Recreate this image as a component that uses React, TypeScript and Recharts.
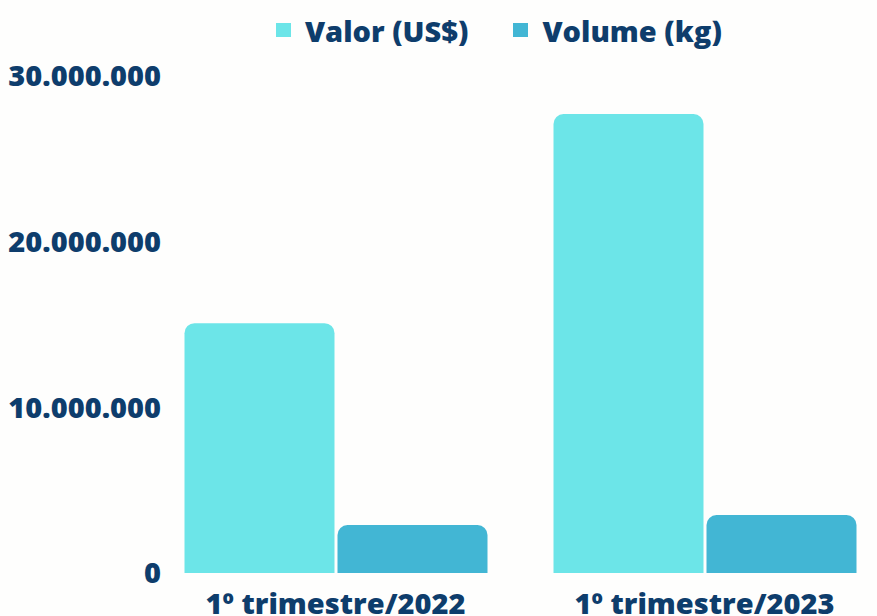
import * as React from "react"
import { Bar, BarChart, Legend, XAxis, YAxis } from "recharts"

// categorias e séries
const periodos = ["1º trimestre/2022", "1º trimestre/2023"]
const valorUsd = [15080000, 27700000]
const volumeKg = [2900000, 3500000]
const yTicks = [0, 10000000, 20000000, 30000000]

const NAVY = "#0e3d6c"
const COR_VALOR = "#6ce5e8"
const COR_VOLUME = "#42b6d4"
const FONT = "'Open Sans', sans-serif"

const data = periodos.map((periodo, i) => ({
  periodo,
  valor: valorUsd[i],
  volume: volumeKg[i],
}))

// 30000000 -> "30.000.000"
const fmt = (v: number) => v.toLocaleString("pt-BR")

const legendItems = [
  { label: "Valor (US$)", color: COR_VALOR, gap: 0 },
  { label: "Volume (kg)", color: COR_VOLUME, gap: 45 },
]

const LegendaTopo = () => (
  <div
    style={{
      height: 71,
      display: "flex",
      alignItems: "flex-start",
      paddingLeft: 276,
      fontFamily: FONT,
      fontWeight: 800,
      fontSize: 29,
      color: NAVY,
    }}
  >
    {legendItems.map((it) => (
      <div
        key={it.label}
        style={{ display: "flex", alignItems: "center", height: 50, marginLeft: it.gap }}
      >
        <span style={{ width: 15, height: 14, background: it.color, marginRight: 14 }} />
        <span>{it.label}</span>
      </div>
    ))}
  </div>
)

export default function App() {
  return (
    <div
      style={{
        position: "absolute",
        left: 0,
        top: 0,
        width: 877,
        height: 616,
        overflow: "hidden",
        background: "#fefefd",
      }}
    >
      <BarChart
        width={900}
        height={640}
        data={data}
        margin={{ top: 5, right: 11, bottom: 0, left: 0 }}
        barCategoryGap={33.5}
        barGap={3}
      >
        <Legend verticalAlign="top" content={() => <LegendaTopo />} />
        <XAxis
          dataKey="periodo"
          axisLine={false}
          tickLine={false}
          tickSize={0}
          tickMargin={20}
          height={67}
          tick={{ fill: NAVY, fontFamily: FONT, fontWeight: 800, fontSize: 29 }}
        />
        <YAxis
          width={151}
          domain={[0, 30000000]}
          ticks={yTicks}
          tickFormatter={fmt}
          axisLine={false}
          tickLine={false}
          tickSize={0}
          tickMargin={0}
          tick={{ fill: NAVY, fontFamily: FONT, fontWeight: 800, fontSize: 29, dx: 10 }}
        />
        <Bar dataKey="valor" fill={COR_VALOR} radius={[10, 10, 0, 0]} isAnimationActive={false} />
        <Bar dataKey="volume" fill={COR_VOLUME} radius={[10, 10, 0, 0]} isAnimationActive={false} />
      </BarChart>
    </div>
  )
}
